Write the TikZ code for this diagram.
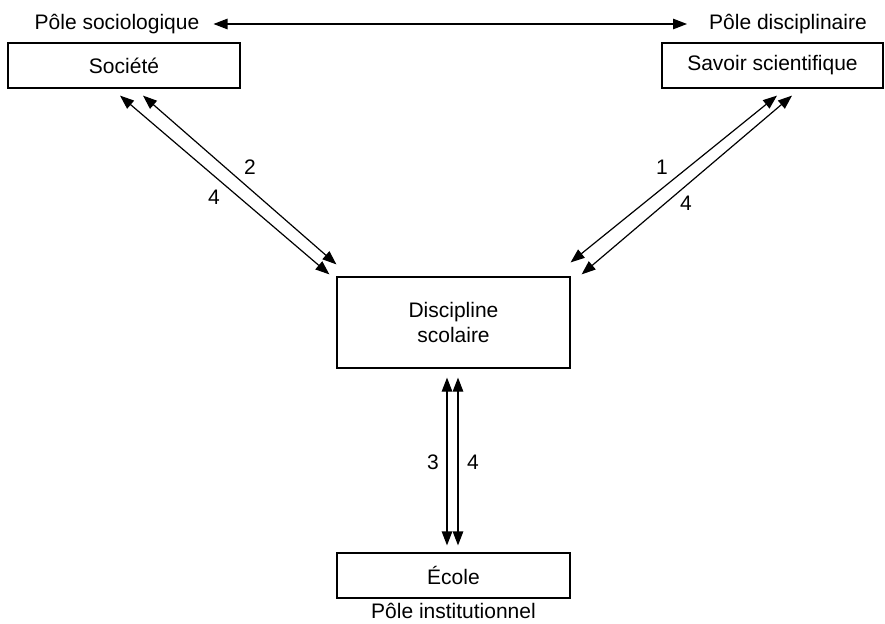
\documentclass[tikz,border=0pt]{standalone}
\usepackage{fontspec}
\setmainfont{Liberation Sans}
\usetikzlibrary{arrows.meta}
\begin{document}
\begin{tikzpicture}[x=1pt,y=-1pt,
  every node/.style={font=\fontsize{21}{25}\selectfont},
  box/.style={draw,line width=1.2pt,inner sep=0pt,minimum height=45pt},
  pole/.style={inner sep=0pt},
  num/.style={inner sep=0pt},
  link/.style={line width=1.2pt,{Triangle[length=14pt,width=10.5pt]}-{Triangle[length=14pt,width=10.5pt]}}]
\useasboundingbox (0,0) rectangle (885,623);
% boxes
\node[box,minimum width=232pt] (soc) at (124,65.5) {Société};
\node[box,minimum width=221pt] (sav) at (772.5,65.5) {Savoir scientifique};
\node[box,minimum width=233pt,minimum height=91pt,align=center] (dis) at (453.5,322.5) {Discipline\\scolaire};
\node[box,minimum width=233pt] (eco) at (453.5,575.5) {École};
% pole labels
\node[pole] (psoc) at (117,24) {Pôle sociologique};
\node[pole] (pdis) at (788,24) {Pôle disciplinaire};
\node[pole] (pins) at (453.5,611) {Pôle institutionnel};
% connectors
\draw[link] ([xshift=14pt]psoc.east) -- ([xshift=-22pt]pdis.west);
\draw[link] ([shift={(-4,7)}]soc.south) -- ([shift={(-7,-2)}]dis.north west);
\draw[link] ([shift={(19,7)}]soc.south) -- ([shift={(0,-12)}]dis.north west);
\draw[link] ([shift={(4.5,7)}]sav.south) -- ([shift={(0,-14)}]dis.north east);
\draw[link] ([shift={(19.5,7)}]sav.south) -- ([shift={(11,-2)}]dis.north east);
\draw[link] ([shift={(-6.5,9)}]dis.south) -- ([shift={(-6.5,-7)}]eco.north);
\draw[link] ([shift={(4.5,9)}]dis.south) -- ([shift={(4.5,-7)}]eco.north);
% numbers
\node[num] (n2) at (250,167) {2};
\node[num] (n4a) at (214,197) {4};
\node[num] (n1) at (662,167) {1};
\node[num] (n4b) at (686,203) {4};
\node[num] (n3) at (433,462) {3};
\node[num] (n4c) at (473,462) {4};
\end{tikzpicture}
\end{document}
